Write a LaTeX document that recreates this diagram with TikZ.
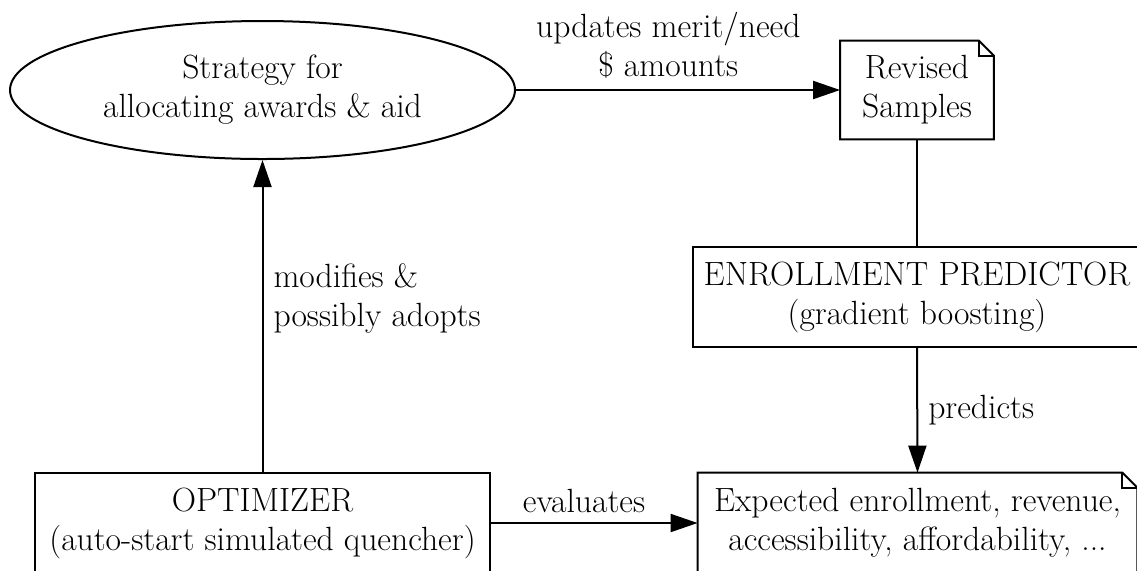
\documentclass[tikz,border=0pt]{standalone}
\usetikzlibrary{arrows.meta,shapes.geometric}
\tikzset{
    every node/.style={font=\fontsize{16.8}{19.5}\selectfont, align=center},
    box/.style={draw, line width=1pt, inner sep=0pt},
    notebox/.style={inner sep=0pt},
    elabel/.style={inner sep=0pt},
    link/.style={line width=1pt, -{Triangle[length=13.5pt,width=9pt]}},
}
% outline of a note node with its folded corner
\newcommand{\drawnote}[1]{%
    \draw[line width=1pt] (#1.south west) -- (#1.north west)
        -- ([xshift=-7.5pt]#1.north east) -- ([yshift=-7.5pt]#1.north east)
        -- (#1.south east) -- cycle;
    \draw[line width=1pt] ([xshift=-7.5pt]#1.north east) |- ([yshift=-7.5pt]#1.north east);
}
\begin{document}
\begin{tikzpicture}[x=0.5pt,y=-0.5pt]
        % the visible part of the graph
        \clip (0,0) rectangle (1137,570);
        % the strategy
        \node[draw, ellipse, line width=1pt, inner sep=0pt,
              minimum width=252.5pt, minimum height=69pt] (strategy) at (262.5,90)
            {Strategy for\\allocating awards \& aid};
        % the revised samples
        \node[notebox, minimum width=76.5pt, minimum height=49pt] (samples) at (917,90)
            {Revised\\Samples};
        \drawnote{samples}
        % the predictor
        \node[box, minimum width=224pt, minimum height=50pt] (predictor) at (917,297)
            {ENROLLMENT PREDICTOR\\(gradient boosting)};
        % the optimizer
        \node[box, minimum width=227.5pt, minimum height=50pt] (optimizer) at (262.5,523)
            {OPTIMIZER\\(auto-start simulated quencher)};
        % the expected outcomes
        \node[notebox, minimum width=219.5pt, minimum height=50pt] (outcomes) at (917.5,523)
            {Expected enrollment, revenue,\\accessibility, affordability, ...};
        \drawnote{outcomes}

        % strategy to samples
        \draw[link] (strategy.east) -- (samples.west)
            node[elabel, pos=0.47, above=5.5pt] {updates merit/need\\\$ amounts};
        % samples to predictor
        \draw[line width=1pt] (samples.south) -- (predictor.north);
        % predictor to outcomes
        \draw[link] (predictor.south) -- (outcomes.north)
            node[elabel, midway, right=5pt] {predicts};
        % optimizer to strategy
        \draw[link] (optimizer.north) -- (strategy.south)
            node[elabel, pos=0.556, right=5pt, align=left] {modifies \&\\possibly adopts};
        % optimizer to outcomes
        \draw[link] (optimizer.east) -- (outcomes.west)
            node[elabel, pos=0.45, above=4.5pt] {evaluates};
    \end{tikzpicture}
\end{document}
